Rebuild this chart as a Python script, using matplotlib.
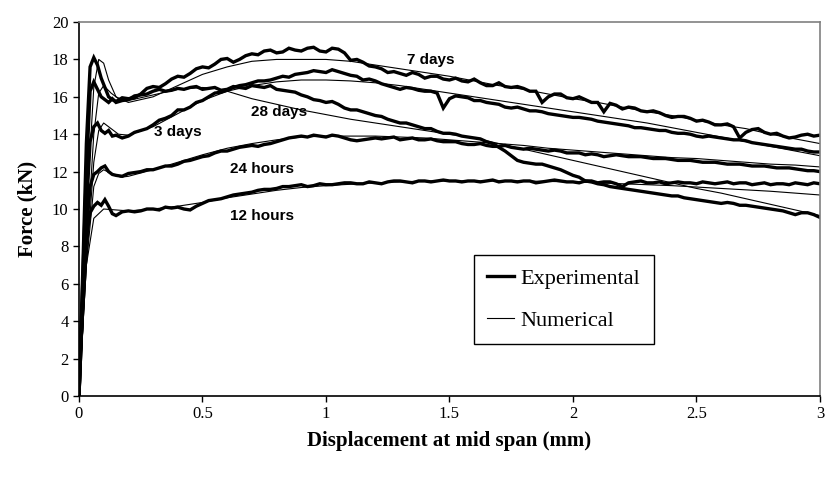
import numpy as np
import matplotlib
matplotlib.use('Agg')
from matplotlib import pyplot as plt
from matplotlib.lines import Line2D

# Displacement grid for the measured curves after the first peak (mm),
# main readings every 0.05 mm and the readings in between
disp = np.round(np.arange(0.15, 3.0001, 0.025), 3)

# Loading ramp and first peak of the tests (mm)
early_x = [0, 0.015, 0.03, 0.045, 0.06, 0.075, 0.09, 0.105, 0.12, 0.135]

# Experimental force (kN)
exp_7d_early = [0, 6.5, 13.5, 17.6, 18.1, 17.7, 17.0, 16.5, 16.0, 15.85]
exp_7d = [15.75, 15.9, 16.15, 16.55, 16.7, 17.1, 17.25, 17.6, 17.75, 18.05,
          18.0, 18.3, 18.45, 18.35, 18.6, 18.45, 18.65, 18.4, 18.55, 17.95,
          17.85, 17.6, 17.3, 17.25, 17.3, 17.0, 17.1, 16.9, 16.85, 16.95,
          16.6, 16.75, 16.5, 16.45, 16.3, 16.0, 16.15, 15.9, 15.85, 15.7,
          15.65, 15.35, 15.4, 15.2, 15.15, 14.9, 14.95, 14.7, 14.65, 14.5,
          14.4, 14.1, 14.3, 14.0, 13.9, 13.85, 14.0, 13.95]
exp_7d_mid = [15.95, 15.95, 16.45, 16.5, 16.95, 17.05, 17.5, 17.55, 18.0, 17.85,
              18.2, 18.25, 18.5, 18.4, 18.5, 18.6, 18.45, 18.6, 18.35, 18.0,
              17.65, 17.5, 17.35, 17.15, 17.2, 17.1, 16.95, 17.0, 16.8, 16.75,
              16.6, 16.55, 16.55, 16.3, 15.7, 16.15, 15.95, 16.0, 15.7, 15.2,
              15.55, 15.45, 15.25, 15.25, 15.0, 14.95, 14.85, 14.75, 14.5, 14.55,
              13.8, 14.25, 14.1, 14.05, 13.8, 13.95, 13.9]

exp_3d_early = [0, 5, 10, 13.6, 14.4, 14.6, 14.2, 14.05, 14.2, 13.9]
exp_3d = [13.95, 13.9, 14.2, 14.5, 14.85, 15.3, 15.45, 15.8, 16.2, 16.35,
          16.6, 16.75, 16.85, 17.0, 17.05, 17.25, 17.4, 17.3, 17.35, 17.15,
          16.9, 16.85, 16.6, 16.4, 16.45, 16.3, 16.2, 15.9, 16.0, 15.8,
          15.7, 15.6, 15.4, 15.35, 15.25, 15.1, 15.0, 14.9, 14.85, 14.7,
          14.6, 14.5, 14.35, 14.3, 14.2, 14.1, 14.05, 13.9, 13.9, 13.8,
          13.7, 13.65, 13.5, 13.4, 13.3, 13.2, 13.1, 13.05]
exp_3d_mid = [13.8, 14.1, 14.3, 14.75, 15.0, 15.3, 15.7, 16.0, 16.25, 16.5,
              16.65, 16.85, 16.9, 17.1, 17.2, 17.3, 17.35, 17.45, 17.25, 17.1,
              16.95, 16.7, 16.5, 16.5, 16.35, 16.3, 15.4, 16.05, 15.95, 15.8,
              15.65, 15.45, 15.45, 15.25, 15.2, 15.05, 14.95, 14.9, 14.8, 14.65,
              14.55, 14.45, 14.35, 14.25, 14.2, 14.05, 14.0, 13.85, 13.85, 13.75,
              13.7, 13.55, 13.45, 13.35, 13.25, 13.2, 13.05]

exp_28d_early = [0, 6, 12, 16.3, 16.8, 16.4, 16.0, 15.85, 15.7, 15.9]
exp_28d = [15.7, 15.85, 16.1, 16.3, 16.3, 16.45, 16.5, 16.4, 16.5, 16.4,
           16.5, 16.6, 16.5, 16.4, 16.3, 16.1, 15.85, 15.7, 15.6, 15.3,
           15.2, 15.0, 14.8, 14.6, 14.5, 14.3, 14.15, 14.05, 13.9, 13.8,
           13.6, 13.3, 12.85, 12.5, 12.4, 12.3, 12.1, 11.8, 11.5, 11.35,
           11.2, 11.1, 11.0, 10.9, 10.8, 10.7, 10.6, 10.5, 10.4, 10.3,
           10.3, 10.2, 10.1, 10.0, 9.9, 9.7, 9.8, 9.55]
exp_28d_mid = [15.8, 16.05, 16.15, 16.4, 16.35, 16.4, 16.55, 16.45, 16.35, 16.55,
               16.45, 16.55, 16.6, 16.35, 16.25, 16.0, 15.8, 15.75, 15.4, 15.3,
               15.1, 14.95, 14.7, 14.6, 14.4, 14.3, 14.05, 14.0, 13.85, 13.75,
               13.5, 13.1, 12.6, 12.45, 12.4, 12.2, 11.95, 11.7, 11.45, 11.3,
               11.15, 11.05, 10.95, 10.85, 10.75, 10.7, 10.55, 10.45, 10.35, 10.35,
               10.2, 10.15, 10.05, 9.95, 9.8, 9.8, 9.7]

exp_24h_early = [0, 5, 9, 11.2, 11.85, 12.0, 12.2, 12.3, 12.0, 11.85]
exp_24h = [11.8, 11.9, 12.0, 12.1, 12.3, 12.4, 12.6, 12.8, 13.0, 13.1,
           13.3, 13.4, 13.45, 13.6, 13.8, 13.9, 13.95, 13.85, 13.9, 13.7,
           13.7, 13.8, 13.8, 13.7, 13.8, 13.7, 13.65, 13.6, 13.5, 13.45,
           13.4, 13.35, 13.3, 13.2, 13.2, 13.1, 13.1, 13.0, 12.9, 12.9,
           12.85, 12.85, 12.8, 12.75, 12.7, 12.65, 12.6, 12.55, 12.5, 12.45,
           12.4, 12.35, 12.3, 12.25, 12.2, 12.15, 12.05, 12.0]
exp_24h_mid = [11.75, 11.95, 12.1, 12.2, 12.3, 12.55, 12.7, 12.85, 13.1, 13.2,
               13.35, 13.35, 13.5, 13.7, 13.85, 13.85, 13.9, 13.95, 13.8, 13.65,
               13.75, 13.75, 13.85, 13.75, 13.7, 13.75, 13.6, 13.6, 13.45, 13.5,
               13.35, 13.4, 13.25, 13.25, 13.15, 13.15, 13.0, 13.0, 12.95, 12.8,
               12.9, 12.8, 12.8, 12.7, 12.7, 12.6, 12.6, 12.5, 12.5, 12.4,
               12.4, 12.3, 12.3, 12.2, 12.2, 12.1, 12.05]

exp_12h_early = [0, 5, 8.5, 9.8, 10.15, 10.35, 10.2, 10.5, 10.15, 9.75]
exp_12h = [9.65, 9.9, 9.9, 10.0, 10.1, 10.1, 9.95, 10.3, 10.5, 10.65,
           10.8, 10.9, 11.05, 11.1, 11.2, 11.3, 11.25, 11.3, 11.35, 11.4,
           11.35, 11.4, 11.45, 11.5, 11.4, 11.5, 11.5, 11.5, 11.45, 11.5,
           11.5, 11.45, 11.5, 11.5, 11.4, 11.5, 11.5, 11.45, 11.5, 11.4,
           11.45, 11.2, 11.45, 11.4, 11.45, 11.4, 11.4, 11.35, 11.4, 11.4,
           11.35, 11.4, 11.35, 11.3, 11.35, 11.4, 11.3, 11.35]
exp_12h_mid = [9.85, 9.85, 10.0, 9.95, 10.05, 10.0, 10.15, 10.45, 10.55, 10.75,
               10.85, 11.0, 11.05, 11.2, 11.25, 11.2, 11.35, 11.3, 11.4, 11.35,
               11.45, 11.35, 11.5, 11.45, 11.5, 11.45, 11.55, 11.5, 11.5, 11.45,
               11.55, 11.5, 11.45, 11.5, 11.45, 11.55, 11.45, 11.4, 11.5, 11.45,
               11.35, 11.4, 11.5, 11.4, 11.35, 11.45, 11.4, 11.45, 11.35, 11.45,
               11.4, 11.3, 11.4, 11.35, 11.3, 11.35, 11.4]

# Numerical model (kN)
num_7d_x = [0, 0.02, 0.04, 0.06, 0.08, 0.10, 0.12, 0.15, 0.2, 0.3, 0.4, 0.5, 0.6, 0.7, 0.8, 0.9,
            1.0, 1.1, 1.2, 1.3, 1.4, 1.5, 1.6, 1.7, 1.8, 1.9, 2.0, 2.1, 2.2, 2.3, 2.4, 2.5,
            2.6, 2.7, 2.8, 2.9, 3.0]
num_7d = [0, 6, 12, 16.5, 18.0, 17.8, 16.9, 16.0, 15.7, 16.0, 16.6, 17.2, 17.6, 17.9, 18.0, 18.0,
          18.0, 17.9, 17.7, 17.5, 17.3, 17.1, 16.85, 16.6, 16.4, 16.15, 15.9, 15.7, 15.45, 15.2,
          15.0, 14.75, 14.5, 14.3, 14.0, 13.75, 13.5]

num_3d_x = [0, 0.03, 0.06, 0.08, 0.10, 0.13, 0.16, 0.2, 0.3, 0.4, 0.5, 0.6, 0.7, 0.8, 0.9,
            1.0, 1.1, 1.2, 1.3, 1.4, 1.5, 1.6, 1.7, 1.8, 1.9, 2.0, 2.1, 2.2, 2.3, 2.4, 2.5,
            2.6, 2.7, 2.8, 2.9, 3.0]
num_3d = [0, 7, 12.5, 14.2, 14.6, 14.3, 14.0, 13.95, 14.4, 15.1, 15.8, 16.3, 16.6, 16.8, 16.9,
          16.9, 16.85, 16.75, 16.6, 16.4, 16.2, 16.0, 15.8, 15.6, 15.4, 15.2, 15.0, 14.8, 14.6,
          14.35, 14.1, 13.85, 13.6, 13.35, 13.1, 12.85]

num_28d_x = [0, 0.03, 0.06, 0.08, 0.10, 0.13, 0.17, 0.2, 0.3, 0.4, 0.5, 0.55, 0.6, 0.7, 0.8, 0.9,
             1.0, 1.1, 1.2, 1.3, 1.4, 1.5, 1.6, 1.7, 1.8, 1.9, 2.0, 2.1, 2.2, 2.3, 2.4, 2.5,
             2.6, 2.7, 2.8, 2.9, 3.0]
num_28d = [0, 7.5, 14, 16.2, 16.6, 16.2, 15.8, 15.8, 16.1, 16.4, 16.5, 16.45, 16.3, 15.9, 15.6,
           15.3, 15.05, 14.8, 14.6, 14.4, 14.2, 14.0, 13.8, 13.5, 13.2, 12.9, 12.6, 12.3, 12.0,
           11.7, 11.4, 11.1, 10.85, 10.55, 10.25, 9.95, 9.65]

num_24h_x = [0, 0.03, 0.06, 0.08, 0.10, 0.13, 0.17, 0.2, 0.3, 0.4, 0.5, 0.6, 0.7, 0.8, 0.9,
             1.0, 1.1, 1.2, 1.3, 1.4, 1.5, 1.6, 1.7, 1.8, 1.9, 2.0, 2.1, 2.2, 2.3, 2.4, 2.5,
             2.6, 2.7, 2.8, 2.9, 3.0]
num_24h = [0, 7, 11.2, 11.9, 12.1, 11.9, 11.7, 11.75, 12.1, 12.5, 12.9, 13.25, 13.5, 13.7, 13.85,
           13.9, 13.9, 13.9, 13.85, 13.8, 13.7, 13.6, 13.5, 13.4, 13.25, 13.15, 13.05, 12.95,
           12.85, 12.75, 12.7, 12.6, 12.5, 12.4, 12.35, 12.25]

num_12h_x = [0, 0.03, 0.06, 0.1, 0.2, 0.3, 0.4, 0.5, 0.6, 0.7, 0.8, 0.9, 1.0, 1.2, 1.4, 1.6,
             1.8, 2.0, 2.2, 2.4, 2.6, 2.8, 3.0]
num_12h = [0, 7, 9.5, 10.0, 9.9, 10.0, 10.15, 10.35, 10.6, 10.8, 11.0, 11.15, 11.25, 11.4, 11.5,
           11.5, 11.5, 11.45, 11.35, 11.25, 11.1, 10.95, 10.75]

# Curve labels: text, displacement, force
curve_labels = [('7 days', 1.425, 17.95), ('28 days', 0.81, 15.2), ('3 days', 0.40, 14.1),
                ('24 hours', 0.74, 12.15), ('12 hours', 0.74, 9.6)]

x_ticks = [0, 0.5, 1, 1.5, 2, 2.5, 3]
x_tick_labels = ['0', '0.5', '1', '1.5', '2', '2.5', '3']
y_ticks = [0, 2, 4, 6, 8, 10, 12, 14, 16, 18, 20]


def measured(early, main, mid):
    # main readings sit on the 0.05 mm steps, the other ones in between
    later = np.empty(len(main) + len(mid))
    later[0::2] = main
    later[1::2] = mid
    return np.concatenate([early_x, disp]), np.concatenate([early, later])


plt.rcParams['font.family'] = ['Liberation Serif', 'DejaVu Serif']

fig, ax = plt.subplots(figsize=(8.26, 4.79), dpi=100)
fig.subplots_adjust(left=0.0956, right=0.9927, bottom=0.1733, top=0.954)

# Measured curves (thick)
for early, main, mid in [(exp_7d_early, exp_7d, exp_7d_mid), (exp_3d_early, exp_3d, exp_3d_mid),
                         (exp_28d_early, exp_28d, exp_28d_mid),
                         (exp_24h_early, exp_24h, exp_24h_mid),
                         (exp_12h_early, exp_12h, exp_12h_mid)]:
    x, y = measured(early, main, mid)
    ax.plot(x, y, color='black', lw=2.4, solid_joinstyle='miter')

# Numerical curves (thin)
for x, y in [(num_7d_x, num_7d), (num_3d_x, num_3d), (num_28d_x, num_28d),
             (num_24h_x, num_24h), (num_12h_x, num_12h)]:
    ax.plot(x, y, color='black', lw=0.8)

for text, x, y in curve_labels:
    ax.text(x, y, text, ha='center', va='center', fontsize=11, fontweight='bold',
            family=['Liberation Sans', 'DejaVu Sans'])

ax.set_xlim(0, 3)
ax.set_ylim(0, 20)
ax.set_xticks(x_ticks)
ax.set_xticklabels(x_tick_labels)
ax.set_yticks(y_ticks)
ax.tick_params(direction='out', length=4, width=1, labelsize=12, colors='black')

for side in ['top', 'right']:
    ax.spines[side].set_color('#808080')
    ax.spines[side].set_linewidth(1.2)
for side in ['left', 'bottom']:
    ax.spines[side].set_color('black')
    ax.spines[side].set_linewidth(1.2)

ax.set_xlabel('Displacement at mid span (mm)', fontsize=15, fontweight='bold', labelpad=6)
ax.set_ylabel('Force (kN)', fontsize=15, fontweight='bold', labelpad=10)

handles = [Line2D([], [], color='black', lw=2.4), Line2D([], [], color='black', lw=0.8)]
leg = ax.legend(handles, ['Experimental', 'Numerical'], loc='upper left',
                bbox_to_anchor=(0.533, 0.377), borderaxespad=0, fontsize=16, frameon=True,
                fancybox=False, edgecolor='black', framealpha=1, handlelength=1.2,
                handletextpad=0.3, labelspacing=0.95, borderpad=0.6)
leg.get_frame().set_linewidth(1.0)

fig.savefig('out.png', dpi=100)
